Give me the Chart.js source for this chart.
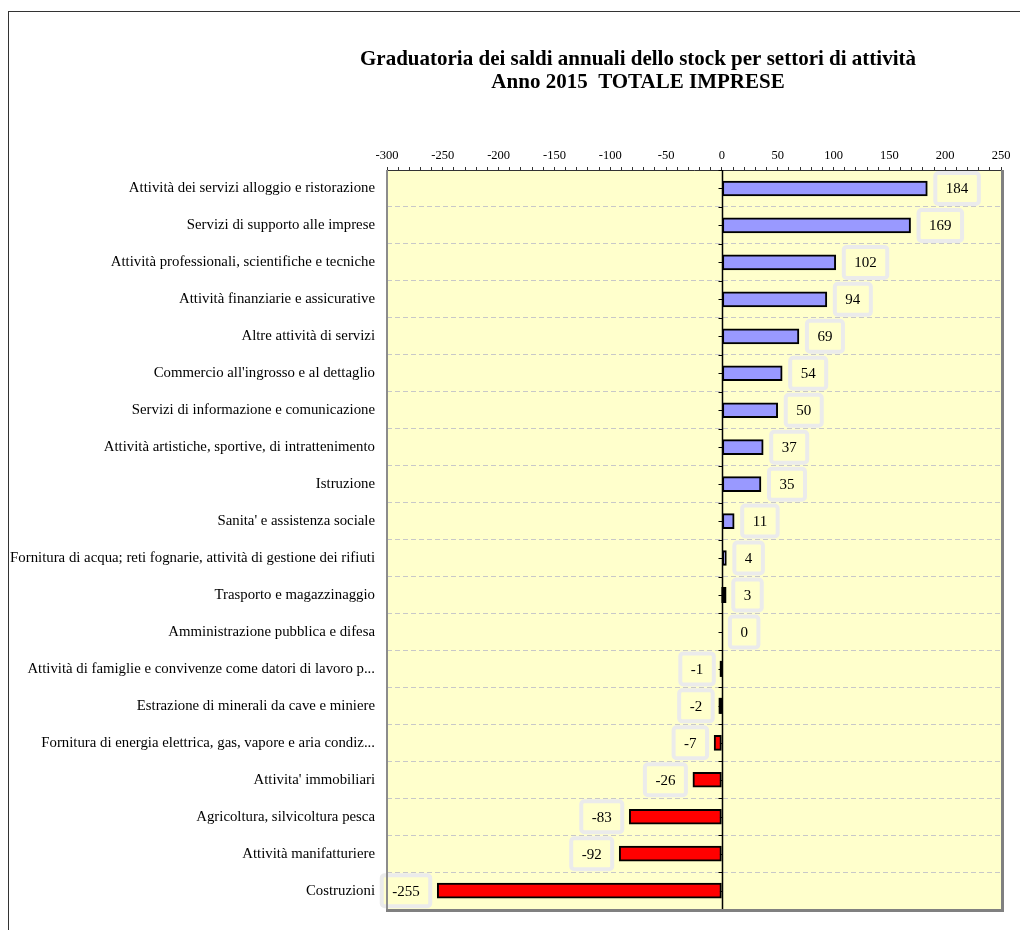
<!DOCTYPE html>
<html>
<head>
<meta charset="utf-8">
<script src="https://cdn.jsdelivr.net/npm/chart.js@4"></script>
<style>
html,body{margin:0;padding:0;background:#fff;overflow:hidden}
#frame{position:absolute;left:8px;top:11px;width:1100px;height:1000px;border:1px solid #333;box-sizing:border-box}
#wrap{position:absolute;left:0;top:0;width:1020px;height:930px}
</style>
</head>
<body>
<div id="frame"></div>
<div id="wrap"><canvas id="myCanvas"></canvas></div>
<script>
const categorie = [
    'Attività dei servizi alloggio e ristorazione',
    'Servizi di supporto alle imprese',
    'Attività professionali, scientifiche e tecniche',
    'Attività finanziarie e assicurative',
    'Altre attività di servizi',
    "Commercio all'ingrosso e al dettaglio",
    'Servizi di informazione e comunicazione',
    'Attività artistiche, sportive, di intrattenimento',
    'Istruzione',
    "Sanita' e assistenza sociale",
    'Fornitura di acqua; reti fognarie, attività di gestione dei rifiuti',
    'Trasporto e magazzinaggio',
    'Amministrazione pubblica e difesa',
    'Attività di famiglie e convivenze come datori di lavoro p...',
    'Estrazione di minerali da cave e miniere',
    'Fornitura di energia elettrica, gas, vapore e aria condiz...',
    "Attivita' immobiliari",
    'Agricoltura, silvicoltura pesca',
    'Attività manifatturiere',
    'Costruzioni'
];
const saldi = [184, 169, 102, 94, 69, 54, 50, 37, 35, 11, 4, 3, 0, -1, -2, -7, -26, -83, -92, -255];
const titolo = ['Graduatoria dei saldi annuali dello stock per settori di attività', 'Anno 2015  TOTALE IMPRESE'];
const xMin = -300;
const xMax = 250;

const SERIF = '"Liberation Serif", "Times New Roman", serif';
const SPESSORE = 15;

// sfondo giallo dell'area del grafico
const sfondo = {
    id: 'sfondo',
    beforeDraw(chart) {
        const {ctx, chartArea: a} = chart;
        ctx.save();
        ctx.fillStyle = '#FFFFCC';
        ctx.fillRect(a.left, a.top, a.right - a.left, a.bottom - a.top);
        ctx.restore();
    }
};

// linea dello zero con tacche
const zero = {
    id: 'zero',
    beforeDatasetsDraw(chart) {
        const {ctx, chartArea: a, scales} = chart;
        const x0 = Math.round(scales.x.getPixelForValue(0)) + 0.5;
        const step = (a.bottom - a.top) / categorie.length;
        ctx.save();
        ctx.strokeStyle = '#000';
        ctx.lineWidth = 1.5;
        ctx.beginPath();
        ctx.moveTo(x0, a.top);
        ctx.lineTo(x0, a.bottom);
        ctx.stroke();
        ctx.lineWidth = 1;
        ctx.beginPath();
        for (let i = 0; i <= categorie.length * 2; i++) {
            const y = Math.round(a.top + i * step / 2) + 0.5;
            ctx.moveTo(x0 - 4, y);
            ctx.lineTo(x0, y);
        }
        ctx.stroke();
        ctx.restore();
    }
};

// etichette dei valori in riquadro
const etichette = {
    id: 'etichette',
    afterDatasetsDraw(chart) {
        const {ctx, scales} = chart;
        const meta = chart.getDatasetMeta(0);
        const x0 = scales.x.getPixelForValue(0);
        ctx.save();
        // barre piccolissime: il bordo nero copre tutto
        meta.data.forEach((bar, i) => {
            if (saldi[i] !== 0 && Math.abs(bar.x - bar.base) < 3) {
                const l = Math.min(bar.x, bar.base) - 1;
                const r = Math.max(bar.x, bar.base) + 1;
                ctx.fillStyle = '#000';
                ctx.fillRect(l, bar.y - SPESSORE / 2 - 0.5, r - l, SPESSORE + 1);
            }
        });
        ctx.font = '15px ' + SERIF;
        ctx.textAlign = 'center';
        ctx.textBaseline = 'middle';
        meta.data.forEach((bar, i) => {
            const v = saldi[i];
            const txt = String(v);
            const w = ctx.measureText(txt).width + 21;
            const h = 31;
            let left;
            if (v >= 0) left = Math.max(bar.x, x0) + 8;
            else left = bar.x - 7 - w;
            const top = bar.y - h / 2;
            ctx.beginPath();
            ctx.roundRect(left, top, w, h, 3);
            ctx.fillStyle = '#FFFFCC';
            ctx.fill();
            ctx.lineWidth = 4;
            ctx.strokeStyle = '#EBEBEB';
            ctx.stroke();
            ctx.fillStyle = '#000';
            ctx.fillText(txt, left + w / 2, bar.y + 1);
        });
        ctx.restore();
    }
};

// cornice dell'area e titolo
const cornice = {
    id: 'cornice',
    afterDraw(chart) {
        const {ctx, chartArea: a} = chart;
        ctx.save();
        ctx.strokeStyle = '#8C8C8C';
        ctx.lineWidth = 2;
        ctx.beginPath();
        ctx.moveTo(a.left, a.top);
        ctx.lineTo(a.left, a.bottom);
        ctx.stroke();
        ctx.strokeStyle = '#808080';
        ctx.lineWidth = 3;
        ctx.beginPath();
        ctx.moveTo(a.right + 1.5, a.top);
        ctx.lineTo(a.right + 1.5, a.bottom + 3);
        ctx.moveTo(a.left - 1, a.bottom + 1.5);
        ctx.lineTo(a.right + 3, a.bottom + 1.5);
        ctx.stroke();

        ctx.fillStyle = '#000';
        ctx.font = 'bold 21px ' + SERIF;
        ctx.textAlign = 'center';
        ctx.textBaseline = 'middle';
        ctx.fillText(titolo[0], 638, 60);
        ctx.fillText(titolo[1], 638, 83);
        ctx.restore();
    }
};

const dataConfig = {
    labels: categorie,
    datasets: [{
        data: saldi,
        backgroundColor: saldi.map(v => v >= 0 ? '#9999FF' : '#FF0000'),
        borderColor: '#000',
        borderWidth: 2,
        borderSkipped: false,
        barThickness: SPESSORE
    }]
};

const config = {
    type: 'bar',
    data: dataConfig,
    plugins: [sfondo, zero, etichette, cornice],
    options: {
        indexAxis: 'y',
        responsive: true,
        maintainAspectRatio: false,
        animation: false,
        layout: {padding: {top: 110, right: 19, bottom: 17, left: 0}},
        plugins: {
            legend: {display: false},
            tooltip: {enabled: false}
        },
        scales: {
            x: {
                position: 'top',
                min: xMin,
                max: xMax,
                afterFit: s => { s.height = 60; },
                ticks: {
                    stepSize: 10,
                    autoSkip: false,
                    maxRotation: 0,
                    padding: 4,
                    color: '#000',
                    font: {family: SERIF, size: 12.5},
                    callback: v => v % 50 === 0 ? v : ''
                },
                grid: {
                    drawOnChartArea: false,
                    drawTicks: true,
                    tickLength: 3,
                    color: '#333'
                },
                border: {display: true, color: '#333', width: 1}
            },
            y: {
                afterFit: s => { s.width = 387; },
                ticks: {
                    padding: 12,
                    color: '#000',
                    font: {family: SERIF, size: 14.8}
                },
                grid: {
                    offset: true,
                    drawTicks: false,
                    color: '#C8C8C8',
                    lineWidth: 1
                },
                border: {display: false, dash: [5, 3]}
            }
        }
    }
};

new Chart(document.getElementById('myCanvas'), config);
</script>
</body>
</html>
